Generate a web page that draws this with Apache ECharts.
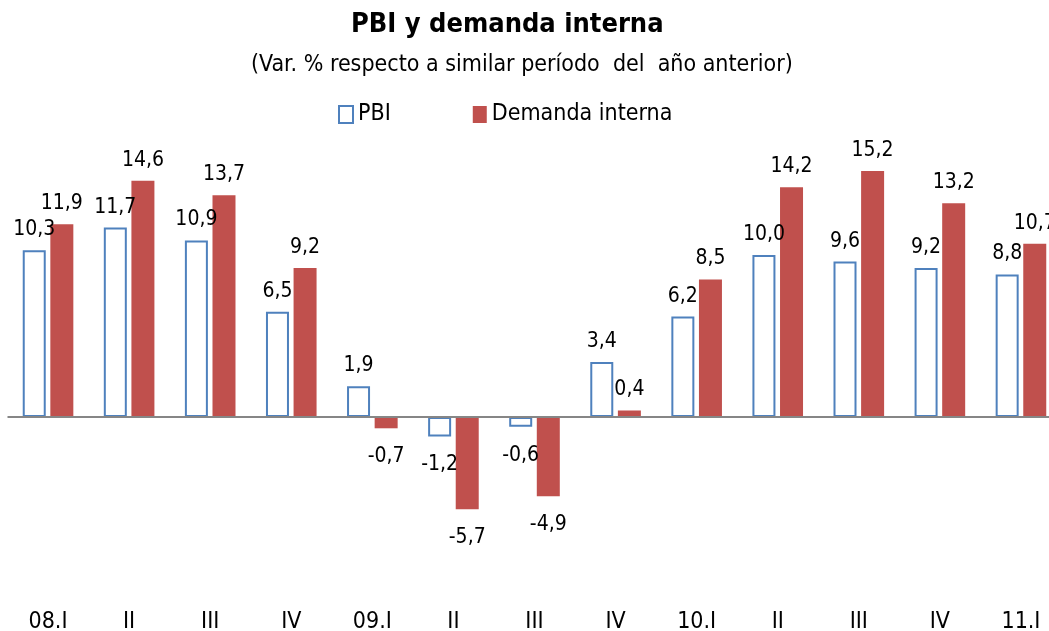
<!DOCTYPE html>
<html>
<head>
<meta charset="utf-8">
<script src="https://cdn.jsdelivr.net/npm/echarts@6/dist/echarts.min.js"></script>
<style>
  html, body { margin: 0; padding: 0; background: #fff; }
  #chart { width: 1049px; height: 631px; }
</style>
</head>
<body>
<div id="chart"></div>
<script>
var categories = ['08.I', 'II', 'III', 'IV', '09.I', 'II', 'III', 'IV', '10.I', 'II', 'III', 'IV', '11.I'];
var pbi = [10.3, 11.7, 10.9, 6.5, 1.9, -1.2, -0.6, 3.4, 6.2, 10.0, 9.6, 9.2, 8.8];
var demanda = [11.9, 14.6, 13.7, 9.2, -0.7, -5.7, -4.9, 0.4, 8.5, 14.2, 15.2, 13.2, 10.7];

var FONT = '"Liberation Sans Narrow", "DejaVu Sans Condensed", "Liberation Sans", sans-serif';

// etiquetas arriba si es positivo, abajo si es negativo
function withLabels(values) {
  return values.map(function (v) {
    return {
      value: v,
      label: { position: v < 0 ? 'bottom' : 'top', distance: v < 0 ? 18 : 10 }
    };
  });
}

function fmt(p) {
  return p.value.toFixed(1).replace('.', ',');
}

var myChart = echarts.init(document.getElementById('chart'));

var option = {
  backgroundColor: '#fff',
  animation: false,
  title: [{
    text: 'PBI y demanda interna',
    left: 346,
    top: 6,
    textStyle: { fontFamily: FONT, fontSize: 27, fontWeight: 'bold', color: '#000' }
  }, {
    text: '(Var. % respecto a similar período  del  año anterior)',
    left: 246,
    top: 49,
    textStyle: { fontFamily: FONT, fontSize: 23, fontWeight: 'normal', color: '#000' }
  }],
  legend: {
    left: 333,
    top: 98,
    itemGap: 82,
    itemWidth: 14,
    itemHeight: 17,
    icon: 'rect',
    textStyle: { fontFamily: FONT, fontSize: 23, color: '#000' },
    data: ['PBI', 'Demanda interna']
  },
  grid: {
    left: 7.5,
    width: 1054,
    top: 158,
    height: 437,
    outerBoundsMode: 'none'
  },
  xAxis: {
    type: 'category',
    data: categories,
    axisLine: { show: false },
    axisTick: { show: false },
    axisLabel: {
      margin: 16,
      fontFamily: FONT,
      fontSize: 23,
      color: '#000',
      interval: 0
    }
  },
  yAxis: {
    type: 'value',
    min: -11,
    max: 16,
    show: false,
    splitLine: { show: false }
  },
  series: [{
    name: 'PBI',
    type: 'bar',
    data: withLabels(pbi),
    barWidth: 23,
    barGap: '20%',
    itemStyle: { color: '#fff', borderColor: '#4f81bd', borderWidth: 2 },
    label: {
      show: true,
      fontFamily: FONT,
      fontSize: 21,
      color: '#000',
      formatter: fmt
    },
    markLine: {
      silent: true,
      symbol: 'none',
      label: { show: false },
      lineStyle: { color: '#868686', width: 2, type: 'solid' },
      data: [{ yAxis: 0 }]
    }
  }, {
    name: 'Demanda interna',
    type: 'bar',
    data: withLabels(demanda),
    barWidth: 23,
    itemStyle: { color: '#c0504d' },
    label: {
      show: true,
      fontFamily: FONT,
      fontSize: 21,
      color: '#000',
      formatter: fmt
    }
  }]
};

myChart.setOption(option);
</script>
</body>
</html>
